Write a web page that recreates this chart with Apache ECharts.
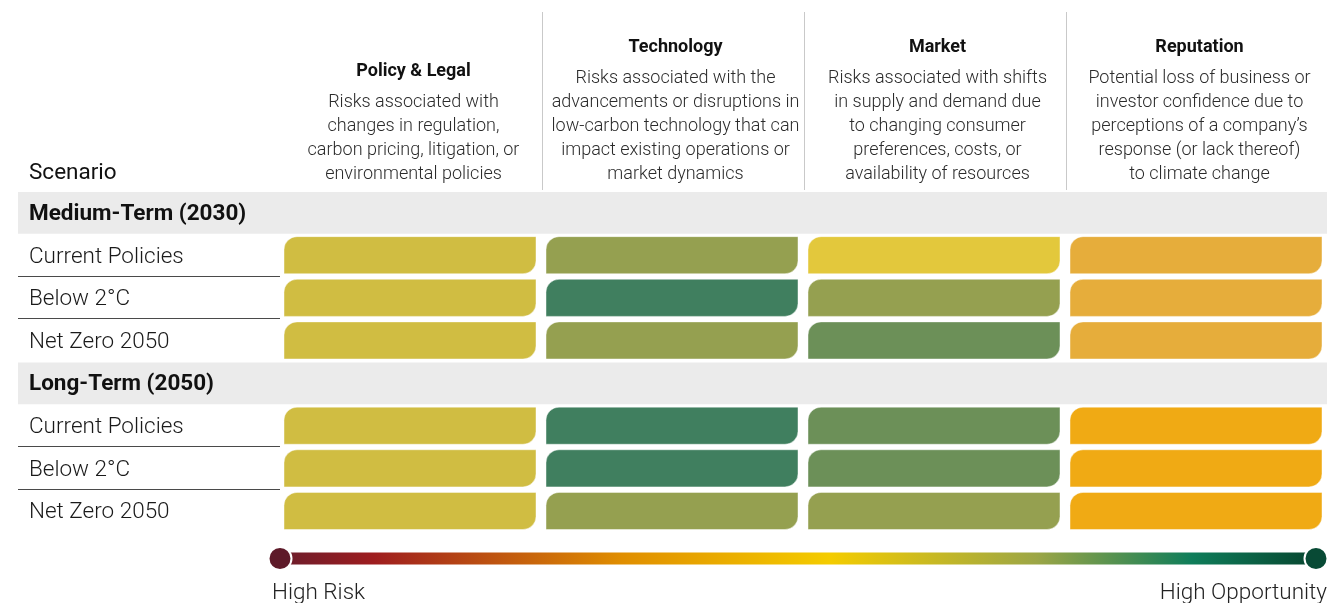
<!DOCTYPE html>
<html><head><meta charset="utf-8">
<script src="https://cdn.jsdelivr.net/npm/echarts@6/dist/echarts.min.js"></script>
<style>html,body{margin:0;padding:0;background:#fff}#c{width:1327px;height:603px}</style>
</head><body><div id="c"></div><script>
// ---------- data ----------
const categories = ['Policy & Legal', 'Technology', 'Market', 'Reputation'];
const descPolicy = ['Risks associated with', 'changes in regulation,', 'carbon pricing, litigation, or', 'environmental policies'];
const descTechnology = ['Risks associated with the', 'advancements or disruptions in', 'low-carbon technology that can', 'impact existing operations or', 'market dynamics'];
const descMarket = ['Risks associated with shifts', 'in supply and demand due', 'to changing consumer', 'preferences, costs, or', 'availability of resources'];
const descReputation = ['Potential loss of business or', 'investor confidence due to', 'perceptions of a company\u2019s', 'response (or lack thereof)', 'to climate change'];
const rowLabels = ['Medium-Term (2030)', 'Current Policies', 'Below 2\u00b0C', 'Net Zero 2050',
                   'Long-Term (2050)', 'Current Policies', 'Below 2\u00b0C', 'Net Zero 2050'];
const groupRows = [0, 4];
// score: 1 = closest to high risk ... 7 = closest to high opportunity
const medCurrent  = [4, 5, 3, 2];
const medBelow2   = [4, 7, 5, 2];
const medNetZero  = [4, 5, 6, 2];
const longCurrent = [4, 7, 6, 1];
const longBelow2  = [4, 7, 6, 1];
const longNetZero = [4, 5, 5, 1];
const scoreRowIndex = [1, 2, 3, 5, 6, 7];
const scoreRows = [medCurrent, medBelow2, medNetZero, longCurrent, longBelow2, longNetZero];
const legendEnds = ['High Risk', 'High Opportunity'];
const cornerTitle = 'Scenario';

// ---------- build ----------
const descs = [descPolicy, descTechnology, descMarket, descReputation];
const cellData = [];
scoreRows.forEach((row, k) => row.forEach((v, c) => cellData.push([c, scoreRowIndex[k], v])));
const bandData = groupRows.map(r => [0, r]);
const lineData = [1, 2, 5, 6].map(r => [0, r]);

const FONT = 'Roboto, "Noto Sans", sans-serif';
const chart = echarts.init(document.getElementById('c'), null, {renderer: 'canvas'});

const option = {
  backgroundColor: '#ffffff',
  animation: false,
  textStyle: {fontFamily: FONT},
  grid: {left: 279, top: 191.5, width: 1050, height: 341, containLabel: false},
  xAxis: {
    type: 'category', data: categories, position: 'top', z: 5,
    axisLine: {show: false}, axisTick: {show: false}, splitLine: {show: false},
    axisLabel: {
      interval: 0, margin: 5, fontFamily: FONT, padding: [0, 0, 0, 7],
      formatter: function (v, i) {
        return '{t|' + v + '}\n' + descs[i].map(l => '{d|' + l + '}').join('\n');
      },
      rich: {
        t: {fontSize: 18, fontWeight: 'bold', color: '#111', lineHeight: 38, fontFamily: FONT},
        d: {fontSize: 18, fontWeight: 300, color: '#2b2b2b', lineHeight: 24, fontFamily: FONT}
      }
    }
  },
  yAxis: {
    type: 'category', data: rowLabels, inverse: true, z: 5,
    axisLine: {show: false}, axisTick: {show: false}, splitLine: {show: false},
    axisLabel: {
      interval: 0, margin: 250, align: 'left', fontFamily: FONT, padding: [3, 0, 0, 0],
      formatter: function (v, i) { return (groupRows.indexOf(i) >= 0 ? '{h|' : '{r|') + v + '}'; },
      rich: {
        h: {fontSize: 22.5, fontWeight: 'bold', color: '#111', fontFamily: FONT},
        r: {fontSize: 22.5, fontWeight: 300, color: '#1a1a1a', fontFamily: FONT}
      }
    }
  },
  visualMap: {
    type: 'piecewise', show: false, dimension: 2, seriesIndex: 2,
    pieces: [
      {value: 1, color: '#f0aa14'},
      {value: 2, color: '#e6ad3b'},
      {value: 3, color: '#e3c83c'},
      {value: 4, color: '#d0bd42'},
      {value: 5, color: '#95a050'},
      {value: 6, color: '#6c9058'},
      {value: 7, color: '#407f5f'}
    ]
  },
  series: [
    {
      type: 'custom', name: 'groupBands', data: bandData, clip: false, z: 0,
      renderItem: function (params, api) {
        const c = api.coord([api.value(0), api.value(1)]);
        const s = api.size([1, 1]);
        return {type: 'rect', shape: {x: 18, y: c[1] - s[1] / 2 + 0.5, width: api.getWidth() - 18, height: s[1] - 1},
                style: {fill: '#ebebeb'}};
      }
    },
    {
      type: 'custom', name: 'rowLines', data: lineData, clip: false, z: 1,
      renderItem: function (params, api) {
        const c = api.coord([api.value(0), api.value(1)]);
        const s = api.size([1, 1]);
        const y = Math.round(c[1] + s[1] / 2) - 0.5;
        return {type: 'line', shape: {x1: 18, y1: y, x2: 280, y2: y}, style: {stroke: '#4a4a4a', lineWidth: 1.2}};
      }
    },
    {
      type: 'custom', name: 'cells', data: cellData, clip: false, z: 2,
      encode: {x: 0, y: 1},
      renderItem: function (params, api) {
        const c = api.coord([api.value(0), api.value(1)]);
        const s = api.size([1, 1]);
        return {type: 'rect',
                shape: {x: c[0] - s[0] / 2 + 5, y: c[1] - s[1] / 2 + 2.5, width: s[0] - 10, height: s[1] - 5.5, r: [13, 0, 13, 0]},
                style: {fill: api.visual('color'), stroke: 'rgba(255,255,255,0.45)', lineWidth: 1}};
      }
    }
  ]
};
chart.setOption(option);

// decorations positioned from the axes
const bw = chart.convertToPixel({xAxisIndex: 0}, 1) - chart.convertToPixel({xAxisIndex: 0}, 0);
const seps = [1, 2, 3].map(i => Math.round(chart.convertToPixel({xAxisIndex: 0}, i) - bw / 2) + 1.5);
const graphics = seps.map(x => ({type: 'line', shape: {x1: x, y1: 12, x2: x, y2: 190}, style: {stroke: '#c9c9c9', lineWidth: 1}, silent: true}));
graphics.push({type: 'text', x: 29, y: 173, style: {text: cornerTitle, font: '400 22.5px ' + FONT, fill: '#111', verticalAlign: 'middle'}});
graphics.push({type: 'rect', shape: {x: 280, y: 552.5, width: 1036, height: 12},
  style: {fill: new echarts.graphic.LinearGradient(0, 0, 1, 0, [
    {offset: 0, color: '#6a1d2c'}, {offset: 0.09, color: '#9e1d1f'}, {offset: 0.33, color: '#e08e00'},
    {offset: 0.53, color: '#f4cc00'}, {offset: 0.73, color: '#9ca646'}, {offset: 0.88, color: '#0f7d5a'},
    {offset: 1, color: '#07452f'}])}});
graphics.push({type: 'circle', shape: {cx: 280, cy: 558.5, r: 11.5}, style: {fill: '#5e1a29', stroke: '#fff', lineWidth: 2}});
graphics.push({type: 'circle', shape: {cx: 1316, cy: 558.5, r: 11.5}, style: {fill: '#084a35', stroke: '#fff', lineWidth: 2}});
graphics.push({type: 'text', x: 272, y: 593, style: {text: legendEnds[0], font: '300 22.5px ' + FONT, fill: '#222', verticalAlign: 'middle'}});
graphics.push({type: 'text', x: 1327, y: 593, style: {text: legendEnds[1], font: '300 22.5px ' + FONT, fill: '#222', verticalAlign: 'middle', align: 'right'}});
chart.setOption({graphic: graphics});
</script></body></html>
